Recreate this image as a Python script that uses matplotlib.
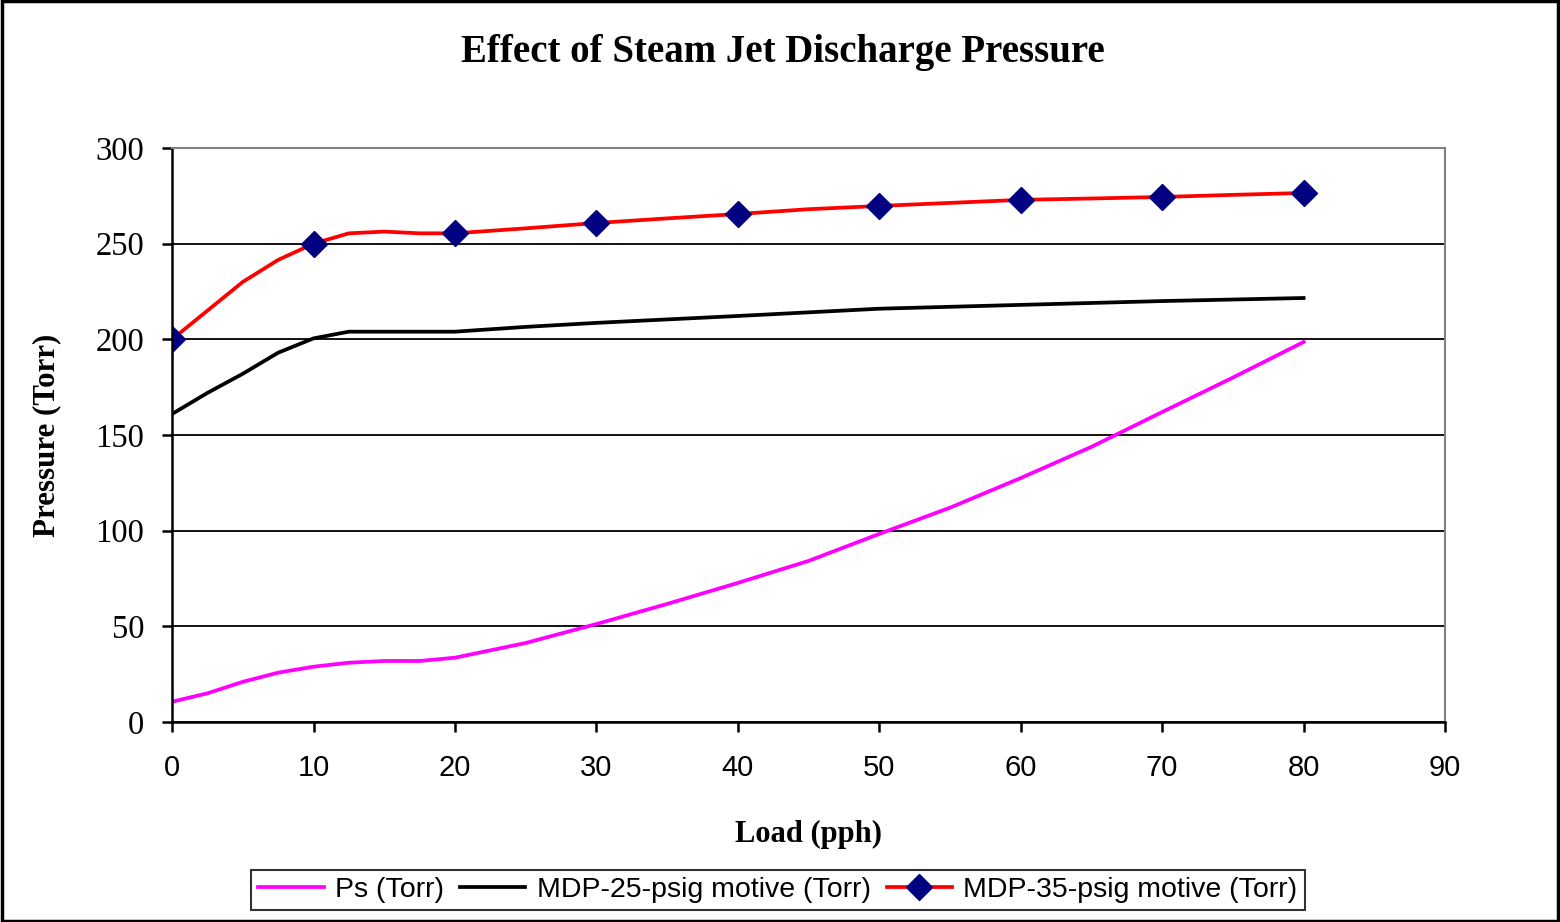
import matplotlib
matplotlib.use("Agg")
import matplotlib.pyplot as plt
from matplotlib.patches import Rectangle

# Load (pph)
load = [0, 2.5, 5, 7.5, 10, 12.5, 15, 17.5, 20, 25, 30, 35, 40, 45, 50, 55, 60, 65, 70, 75, 80]

# Ps (Torr)
ps = [10.6, 15, 21, 25.8, 28.9, 31, 31.9, 31.9, 33.6, 41.3, 51.2, 61.7, 72.7, 84.2, 98.3,
      112, 127.5, 143.8, 162, 180, 198.6]

# MDP-25-psig motive (Torr)
mdp25 = [161, 172, 182, 193, 200.5, 204, 204, 204, 204, 206.5, 208.6, 210.4, 212.2, 214.1, 216,
         217, 218, 219, 220, 220.8, 221.6]

# MDP-35-psig motive (Torr)
mdp35 = [200, 215, 230, 241.5, 250, 255.4, 256.3, 255.4, 255.4, 258, 260.8, 263.2, 265.5, 268, 269.7,
         271.3, 272.9, 273.6, 274.4, 275.5, 276.5]

# markers only at the multiples of 10
marker_idx = [i for i, v in enumerate(load) if v % 10 == 0]

serif = "Liberation Serif"
sans = ["Liberation Sans", "DejaVu Sans"]

fig = plt.figure(figsize=(15.6, 9.22), dpi=100)
ax = fig.add_axes([0.1103, 0.2169, 0.816, 0.6226])

ax.plot(load, ps, color="#FF00FF", lw=2.7, label="Ps (Torr)")
ax.plot(load, mdp25, color="black", lw=2.7, label="MDP-25-psig motive (Torr)")
ax.plot(load, mdp35, color="#FF0000", lw=2.7, marker="D", markersize=13,
        markerfacecolor="#000080", markeredgecolor="#000080", markevery=marker_idx,
        label="MDP-35-psig motive (Torr)")

ax.set_xlim(0, 90)
ax.set_ylim(0, 300)
ax.set_xticks(range(0, 91, 10))
ax.set_yticks(range(0, 301, 50))
ax.grid(axis="y", color="black", lw=1.3)
ax.set_axisbelow(True)

for s in ["top", "right"]:
    ax.spines[s].set_color("#808080")
    ax.spines[s].set_linewidth(1.5)
for s in ["left", "bottom"]:
    ax.spines[s].set_color("black")
    ax.spines[s].set_linewidth(1.8)

ax.tick_params(axis="x", direction="out", length=7, width=1.8, pad=16)
ax.tick_params(axis="y", direction="out", length=7, width=1.8, pad=13)
for lab in ax.get_xticklabels():
    lab.set_family(sans)
    lab.set_fontsize(21)
for lab in ax.get_yticklabels():
    lab.set_family(serif)
    lab.set_fontsize(23.5)

ax.set_xlabel("Load (pph)", family=serif, fontsize=22, fontweight="bold", labelpad=27)
fig.text(0.030, 0.528, "Pressure (Torr)", family=serif, fontsize=22.3, fontweight="bold",
         rotation=90, ha="center", va="center")
fig.text(0.502, 0.943, "Effect of Steam Jet Discharge Pressure", family=serif, fontsize=28,
         fontweight="bold", ha="center", va="center")

leg = fig.legend(loc="center", bbox_to_anchor=(0.4987, 0.0345), ncol=3, frameon=True,
                 fancybox=False, edgecolor="black", handlelength=2.3, handletextpad=0.4,
                 columnspacing=0.55, borderpad=0.25,
                 prop={"family": sans, "size": 20.5})
leg.get_frame().set_linewidth(1.5)

fig.patches.append(Rectangle((0.001, 0.001), 0.998, 0.998, transform=fig.transFigure,
                             fill=False, edgecolor="black", lw=2.5))

fig.savefig("out.png", dpi=100)
